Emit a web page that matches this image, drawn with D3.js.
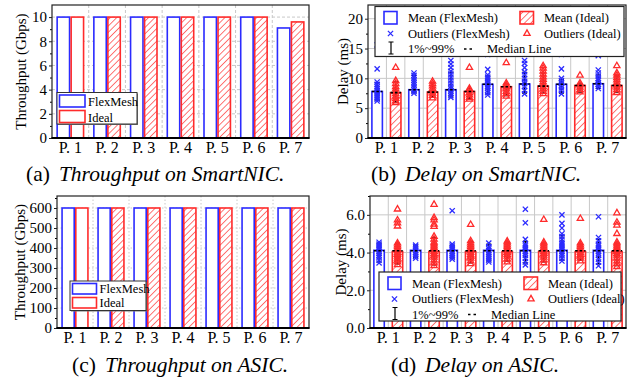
<!DOCTYPE html>
<html>
<head>
<meta charset="utf-8">
<script src="https://cdn.jsdelivr.net/npm/d3@7"></script>
<style>
  body { margin: 0; background: #fff; }
  svg { display: block; }
  text { font-family: "Liberation Serif", "Times New Roman", serif; fill: #000; }
</style>
</head>
<body>
<svg id="fig" width="636" height="381"></svg>
<script>
// ---- data ----
const paths = ["P. 1", "P. 2", "P. 3", "P. 4", "P. 5", "P. 6", "P. 7"];

// throughput (Gbps)
const nicTputFlex = [10, 10, 10, 10, 10, 10, 9.1];
const nicTputIdeal = [10, 10, 10, 10, 10, 10, 9.6];
const asicTputFlex = [600, 600, 600, 600, 600, 600, 600];
const asicTputIdeal = [600, 600, 600, 600, 600, 600, 600];

// delay on SmartNIC (ms)
const nicMeanFlex = [7.8, 8.1, 8.1, 9.0, 9.05, 9.0, 9.1];
const nicMeanIdeal = [7.6, 7.7, 7.8, 8.6, 8.7, 8.8, 8.8];
const nicMedFlex = [7.8, 8.1, 8.1, 9.0, 9.05, 9.0, 9.1];
const nicMedIdeal = [7.6, 7.7, 7.8, 8.6, 8.7, 8.8, 8.8];
const nicP1Flex = [6.3, 7.6, 7.0, 7.4, 7.5, 7.5, 8.3];
const nicP99Flex = [9.3, 10.5, 11.0, 10.4, 11.0, 9.8, 10.6];
const nicP1Ideal = [6.0, 6.8, 6.6, 7.1, 7.5, 7.7, 7.7];
const nicP99Ideal = [9.4, 9.2, 8.3, 9.1, 10.9, 9.1, 10.4];
const nicOutFlex = [
  [15.6, 11.6, 9.4, 9.0, 8.6, 8.3, 8.0, 7.7, 7.4, 7.1, 6.8, 6.5, 6.2],
  [14.3, 10.9, 10.5, 10.1, 9.7, 9.3, 8.9, 8.5, 8.1, 7.8, 7.5],
  [13.0, 12.4, 11.8, 11.2, 10.7, 10.2, 9.7, 9.2, 8.7, 8.3, 7.9, 7.5, 7.1, 6.8],
  [14.0, 11.5, 10.6, 10.2, 9.9, 9.6, 9.3, 9.0, 8.7, 8.4, 8.0, 7.6, 7.2],
  [15.2, 13.0, 12.5, 11.8, 11.1, 10.6, 10.0, 9.5, 9.1, 8.6, 8.0, 7.4],
  [14.0, 11.6, 10.0, 9.6, 9.2, 8.8, 8.4, 8.0, 7.4],
  [13.8, 11.4, 10.9, 10.4, 10.0, 9.7, 9.3, 9.0, 8.7, 8.3]
];
const nicOutIdeal = [
  [11.8, 9.6, 9.1, 8.6, 8.2, 7.8, 7.4, 7.0, 6.6, 6.2, 5.9],
  [14.0, 9.5, 9.1, 8.7, 8.3, 7.9, 7.5, 7.1, 6.7],
  [11.8, 8.3, 8.0, 7.6, 7.2, 6.8, 6.5],
  [12.6, 9.2, 8.9, 8.6, 8.2, 7.8, 7.4, 7.0],
  [12.1, 11.7, 11.2, 10.7, 10.2, 9.8, 9.4, 9.0, 8.6, 8.2, 7.8, 7.4],
  [10.5, 9.2, 8.9, 8.5, 8.1, 7.7],
  [12.1, 10.9, 10.5, 10.1, 9.7, 9.3, 8.9, 8.5, 8.1, 7.6]
];

// delay on ASIC (ms)
const asicMeanFlex = [4.12, 4.12, 4.12, 4.12, 4.12, 4.12, 4.12];
const asicMeanIdeal = [4.05, 4.05, 4.05, 4.05, 4.05, 4.05, 4.05];
const asicMedFlex = [4.1, 4.1, 4.1, 4.1, 4.1, 4.1, 4.1];
const asicMedIdeal = [4.1, 4.1, 4.1, 4.1, 4.1, 4.1, 4.1];
const asicP1Flex = [3.5, 3.75, 3.7, 3.55, 3.45, 3.6, 3.4];
const asicP99Flex = [4.5, 4.4, 4.4, 4.45, 4.6, 4.9, 4.7];
const asicP1Ideal = [3.4, 3.35, 3.45, 3.55, 3.5, 3.6, 3.3];
const asicP99Ideal = [4.5, 4.8, 4.6, 4.55, 4.5, 4.45, 4.5];
const asicOutFlex = [
  [4.55, 4.45, 4.35, 4.25, 4.15, 4.05, 3.95, 3.85, 3.75, 3.6, 3.45],
  [4.4, 4.3, 4.2, 4.1, 4.0, 3.9, 3.8, 3.7],
  [6.22, 4.45, 4.35, 4.25, 4.15, 4.05, 3.95, 3.85, 3.75, 3.65],
  [4.5, 4.3, 4.2, 4.1, 4.0, 3.9, 3.8, 3.7, 3.6, 3.5],
  [6.3, 5.58, 4.7, 4.45, 4.35, 4.25, 4.15, 4.05, 3.95, 3.85, 3.7, 3.5, 3.35],
  [6.0, 5.55, 5.3, 5.0, 4.85, 4.7, 4.55, 4.45, 4.35, 4.25, 4.15, 4.05, 3.95, 3.85, 3.7, 3.55],
  [5.9, 4.8, 4.62, 4.45, 4.35, 4.25, 4.15, 4.05, 3.95, 3.85, 3.65, 3.5, 3.3]
];
const asicOutIdeal = [
  [6.3, 5.72, 5.56, 5.4, 4.5, 4.4, 4.3, 4.2, 4.1, 4.0, 3.9, 3.8, 3.7, 3.6, 3.5, 3.35],
  [6.55, 5.85, 5.72, 5.5, 5.38, 4.85, 4.7, 4.55, 4.45, 4.35, 4.25, 4.15, 4.05, 3.95, 3.85, 3.75, 3.6, 3.45, 3.3],
  [5.48, 4.62, 4.5, 4.4, 4.3, 4.2, 4.1, 4.0, 3.9, 3.8, 3.7, 3.55, 3.4],
  [4.6, 4.5, 4.4, 4.3, 4.2, 4.1, 4.0, 3.9, 3.8, 3.65, 3.5],
  [5.75, 4.55, 4.45, 4.35, 4.25, 4.15, 4.05, 3.95, 3.85, 3.75, 3.6, 3.45],
  [5.8, 4.5, 4.4, 4.3, 4.2, 4.1, 4.0, 3.9, 3.8, 3.7, 3.55],
  [6.1, 5.6, 5.45, 5.0, 4.55, 4.45, 4.35, 4.25, 4.15, 4.05, 3.95, 3.85, 3.7, 3.55, 3.4, 3.25]
];

const BLUE = "#2b2bff";
const RED = "#ff2b2b";

const svg = d3.select("#fig");

// hatch pattern for the Ideal bars
svg.append("defs")
  .append("pattern")
  .attr("id", "hatch")
  .attr("patternUnits", "userSpaceOnUse")
  .attr("width", 4.5)
  .attr("height", 4.5)
  .attr("patternTransform", "rotate(45)")
  .call(p => {
    p.append("rect").attr("width", 4.5).attr("height", 4.5).attr("fill", "#fff");
    p.append("line").attr("x1", 0).attr("y1", 0).attr("x2", 0).attr("y2", 4.5)
      .attr("stroke", RED).attr("stroke-width", 1.3);
  });

// axes, grid and frame of one panel
function drawFrame(cfg) {
  const { x0, x1, yTop, yBot, domain, major, minor, fmt, grid, halfGrid, yLabel, labelX } = cfg;
  const g = svg.append("g");
  const y = d3.scaleLinear().domain(domain).range([yBot, yTop]);
  const x = d3.scaleBand().domain(paths).range([x0, x1]);

  // grid
  const gridG = g.append("g").attr("stroke", "#c8c8c8").attr("stroke-width", 1);
  if (grid === "dotted") gridG.attr("stroke-dasharray", "1.5,2");
  if (grid === "dashed") gridG.attr("stroke-dasharray", "3,2");
  gridG.selectAll(".h").data(major.filter(v => v > domain[0])).join("line")
    .attr("x1", x0).attr("x2", x1).attr("y1", d => y(d)).attr("y2", d => y(d));
  let vx = paths.slice(1).map(p => x(p));
  if (halfGrid) vx = vx.concat(paths.map(p => x(p) + x.bandwidth() / 2));
  gridG.selectAll(".v").data(vx).join("line")
    .attr("x1", d => d).attr("x2", d => d).attr("y1", yTop).attr("y2", yBot);

  const axG = g.append("g").attr("transform", `translate(${x0},0)`)
    .call(d3.axisLeft(y).tickValues(major).tickSize(3).tickPadding(2).tickFormat(fmt));
  axG.select(".domain").remove();
  axG.selectAll("text").style("font-family", '"Liberation Serif", serif').attr("font-size", 15);
  axG.selectAll("line").attr("stroke", "#222");
  const mnG = g.append("g").attr("transform", `translate(${x0},0)`)
    .call(d3.axisLeft(y).tickValues(minor).tickSize(2).tickFormat(""));
  mnG.select(".domain").remove();

  const xg = g.append("g").attr("transform", `translate(0,${yBot})`)
    .call(d3.axisBottom(x).tickSize(0).tickPadding(3.5));
  xg.select(".domain").remove();
  xg.selectAll("text").style("font-family", '"Liberation Serif", serif').attr("font-size", 16);

  g.append("text")
    .attr("transform", `translate(${labelX},${(yTop + yBot) / 2}) rotate(-90)`)
    .attr("text-anchor", "middle")
    .attr("dominant-baseline", "central")
    .attr("font-size", 15)
    .text(yLabel);

  return { g, x, y };
}

function drawBorder(g, cfg) {
  const { x0, x1, yTop, yBot } = cfg;
  g.append("rect").attr("x", x0).attr("y", yTop).attr("width", x1 - x0).attr("height", yBot - yTop)
    .attr("fill", "none").attr("stroke", "#222").attr("stroke-width", 1.2);
  g.append("line").attr("x1", x0 - 0.5).attr("x2", x1 + 0.5).attr("y1", yBot).attr("y2", yBot)
    .attr("stroke", "#000").attr("stroke-width", 2.2);
}

function drawThroughput(cfg, flex, ideal, leg) {
  const { g, x, y } = drawFrame(cfg);
  const sub = d3.scaleBand().domain(["f", "i"]).range([0, x.bandwidth()]).paddingOuter(0.31);
  const rows = paths.map((p, i) => ({ p, i, f: flex[i], v: ideal[i] }));
  g.append("g").selectAll("rect").data(rows).join("rect")
    .attr("x", d => x(d.p) + sub("f") + 0.8).attr("width", sub.bandwidth() - 1.6)
    .attr("y", d => y(d.f)).attr("height", d => y(0) - y(d.f))
    .attr("fill", "#fff").attr("stroke", BLUE).attr("stroke-width", 1.6);
  g.append("g").selectAll("rect").data(rows).join("rect")
    .attr("x", d => x(d.p) + sub("i") + 0.8).attr("width", sub.bandwidth() - 1.6)
    .attr("y", d => y(d.v)).attr("height", d => y(0) - y(d.v))
    .attr("fill", d => d.i === 0 ? "#fff" : "url(#hatch)")
    .attr("stroke", RED).attr("stroke-width", 1.6);
  drawBorder(g, cfg);

  // legend
  const lg = g.append("g").attr("transform", `translate(${leg.x},${leg.y})`);
  lg.append("rect").attr("x", 1).attr("y", 1).attr("width", leg.w).attr("height", leg.h).attr("fill", "#777");
  lg.append("rect").attr("width", leg.w).attr("height", leg.h).attr("fill", "#fff")
    .attr("stroke", "#333").attr("stroke-width", 1);
  [["FlexMesh", BLUE], ["Ideal", RED]].forEach(([name, c], k) => {
    lg.append("rect").attr("x", 2.5).attr("y", 2.5 + k * leg.row).attr("width", leg.sw).attr("height", leg.row - 3.5)
      .attr("fill", "#fff").attr("stroke", c).attr("stroke-width", 1.6);
    lg.append("text").attr("x", leg.sw + 5.5).attr("y", leg.row - 2 + k * leg.row)
      .attr("font-size", 12.5).text(name);
  });
}

const xMark = "M-2.6,-2.6L2.6,2.6M-2.6,2.6L2.6,-2.6";
const triMark = d3.symbol(d3.symbolTriangle, 17)();

function drawDelay(cfg, s, leg) {
  const { g, x, y } = drawFrame(cfg);
  const sub = d3.scaleBand().domain(["f", "i"]).range([0, x.bandwidth()])
    .paddingInner(0.435).paddingOuter(0.21);
  const bw = sub.bandwidth();
  const rows = paths.map((p, i) => ({ p, i }));
  const series = [
    { key: "f", mean: s.meanF, med: s.medF, lo: s.p1F, hi: s.p99F, out: s.outF, color: BLUE, fill: "#fff" },
    { key: "i", mean: s.meanI, med: s.medI, lo: s.p1I, hi: s.p99I, out: s.outI, color: RED, fill: "url(#hatch)" }
  ];
  series.forEach(se => {
    const cx = d => x(d.p) + sub(se.key) + bw / 2;
    g.append("g").selectAll("rect").data(rows).join("rect")
      .attr("x", d => x(d.p) + sub(se.key)).attr("width", bw)
      .attr("y", d => y(se.mean[d.i])).attr("height", d => y(0) - y(se.mean[d.i]))
      .attr("fill", se.fill).attr("stroke", se.color).attr("stroke-width", 1.6);
    // 1%~99% whiskers
    const eg = g.append("g").attr("stroke", "#000").attr("stroke-width", 1.2);
    eg.selectAll(".w").data(rows).join("path")
      .attr("d", d => `M${cx(d)},${y(se.lo[d.i])}V${y(se.hi[d.i])}` +
        `M${cx(d) - 2.5},${y(se.lo[d.i])}h5M${cx(d) - 2.5},${y(se.hi[d.i])}h5`);
    // outliers
    const pts = rows.flatMap(d => se.out[d.i].map(v => ({ x: cx(d), v })));
    g.append("g").selectAll("path").data(pts).join("path")
      .attr("transform", d => `translate(${d.x},${y(d.v)})`)
      .attr("d", se.key === "f" ? xMark : triMark)
      .attr("fill", "none").attr("stroke", se.color).attr("stroke-width", 1.3);
    // median
    g.append("g").selectAll("line").data(rows).join("line")
      .attr("x1", d => x(d.p) + sub(se.key)).attr("x2", d => x(d.p) + sub(se.key) + bw)
      .attr("y1", d => y(se.med[d.i])).attr("y2", d => y(se.med[d.i]))
      .attr("stroke", "#000").attr("stroke-width", 1.6).attr("stroke-dasharray", "2.5,2");
  });
  drawBorder(g, cfg);

  // legend
  const lg = g.append("g").attr("transform", `translate(${leg.x},${leg.y})`);
  lg.append("rect").attr("width", leg.w).attr("height", leg.h).attr("fill", "#fff")
    .attr("stroke", "#222").attr("stroke-width", 1.2);
  const fs = 12.5;
  const r0 = 15.5, r1 = 31, r2 = 46.5;
  lg.append("rect").attr("x", 9).attr("y", 5).attr("width", 13).attr("height", 12.5)
    .attr("fill", "#fff").attr("stroke", BLUE).attr("stroke-width", 1.6);
  lg.append("text").attr("x", 33).attr("y", r0).attr("font-size", fs).text("Mean (FlexMesh)");
  lg.append("rect").attr("x", 145).attr("y", 5).attr("width", 13.5).attr("height", 12.5)
    .attr("fill", "url(#hatch)").attr("stroke", RED).attr("stroke-width", 1.6);
  lg.append("text").attr("x", 169).attr("y", r0).attr("font-size", fs).text("Mean (Ideal)");
  lg.append("path").attr("transform", `translate(15.5,${r1 - 4})`).attr("d", xMark)
    .attr("fill", "none").attr("stroke", BLUE).attr("stroke-width", 1.3);
  lg.append("text").attr("x", 33).attr("y", r1).attr("font-size", fs).text("Outliers (FlexMesh)");
  lg.append("path").attr("transform", `translate(152,${r1 - 4})`).attr("d", triMark)
    .attr("fill", "none").attr("stroke", RED).attr("stroke-width", 1.3);
  lg.append("text").attr("x", 169).attr("y", r1).attr("font-size", fs).text("Outliers (Ideal)");
  lg.append("path").attr("d", `M16,${r2 - 11}V${r2 + 1}M13.5,${r2 - 11}h5M13.5,${r2 + 1}h5`)
    .attr("stroke", "#000").attr("stroke-width", 1.2);
  lg.append("text").attr("x", 33).attr("y", r2).attr("font-size", fs).text("1%~99%");
  lg.append("line").attr("x1", 89).attr("x2", 99).attr("y1", r2 - 4).attr("y2", r2 - 4)
    .attr("stroke", "#000").attr("stroke-width", 1.5).attr("stroke-dasharray", "2.5,3");
  lg.append("text").attr("x", 112).attr("y", r2).attr("font-size", fs).text("Median Line");
}

function caption(xs, ys, tag, txt) {
  const t = svg.append("text").attr("x", xs).attr("y", ys).attr("font-size", 21.5);
  t.append("tspan").text(tag);
  t.append("tspan").attr("dx", 9).attr("font-style", "italic").text(txt);
}

// (a) throughput on SmartNIC
drawThroughput({
  x0: 52, x1: 309, yTop: 5, yBot: 138, domain: [0, 11],
  major: [0, 2, 4, 6, 8, 10], minor: [1, 3, 5, 7, 9],
  fmt: d3.format("d"), grid: "dashed", yLabel: "Throughput (Gbps)", labelX: 21
}, nicTputFlex, nicTputIdeal, { x: 57, y: 92.5, w: 80, h: 31.5, row: 15.5, sw: 25.5 });

// (b) delay on SmartNIC
drawDelay({
  x0: 368, x1: 626, yTop: 5, yBot: 138, domain: [0, 22.3],
  major: [0, 5, 10, 15, 20], minor: [2.5, 7.5, 12.5, 17.5],
  fmt: d3.format("d"), grid: "solid", halfGrid: true, yLabel: "Delay (ms)", labelX: 343
}, {
  meanF: nicMeanFlex, meanI: nicMeanIdeal, medF: nicMedFlex, medI: nicMedIdeal,
  p1F: nicP1Flex, p99F: nicP99Flex, p1I: nicP1Ideal, p99I: nicP99Ideal,
  outF: nicOutFlex, outI: nicOutIdeal
}, { x: 375, y: 6.5, w: 249, h: 50 });

// (c) throughput on ASIC
drawThroughput({
  x0: 57, x1: 309, yTop: 196, yBot: 328, domain: [0, 660],
  major: [0, 100, 200, 300, 400, 500, 600], minor: [50, 150, 250, 350, 450, 550, 650],
  fmt: d3.format("d"), grid: "dotted", yLabel: "Throughput (Gbps)", labelX: 20
}, asicTputFlex, asicTputIdeal, { x: 70, y: 281, w: 76, h: 29.5, row: 14, sw: 24 });

// (d) delay on ASIC
drawDelay({
  x0: 370, x1: 626, yTop: 196, yBot: 328, domain: [0, 7],
  major: [0, 2, 4, 6], minor: [1, 3, 5, 7],
  fmt: d3.format(".1f"), grid: "solid", halfGrid: true, yLabel: "Delay (ms)", labelX: 341
}, {
  meanF: asicMeanFlex, meanI: asicMeanIdeal, medF: asicMedFlex, medI: asicMedIdeal,
  p1F: asicP1Flex, p99F: asicP99Flex, p1I: asicP1Ideal, p99I: asicP99Ideal,
  outF: asicOutFlex, outI: asicOutIdeal
}, { x: 379, y: 272, w: 242, h: 49 });

caption(26, 181, "(a)", "Throughput on SmartNIC.");
caption(371, 181, "(b)", "Delay on SmartNIC.");
caption(72, 372, "(c)", "Throughput on ASIC.");
caption(391, 372, "(d)", "Delay on ASIC.");
</script>
</body>
</html>
